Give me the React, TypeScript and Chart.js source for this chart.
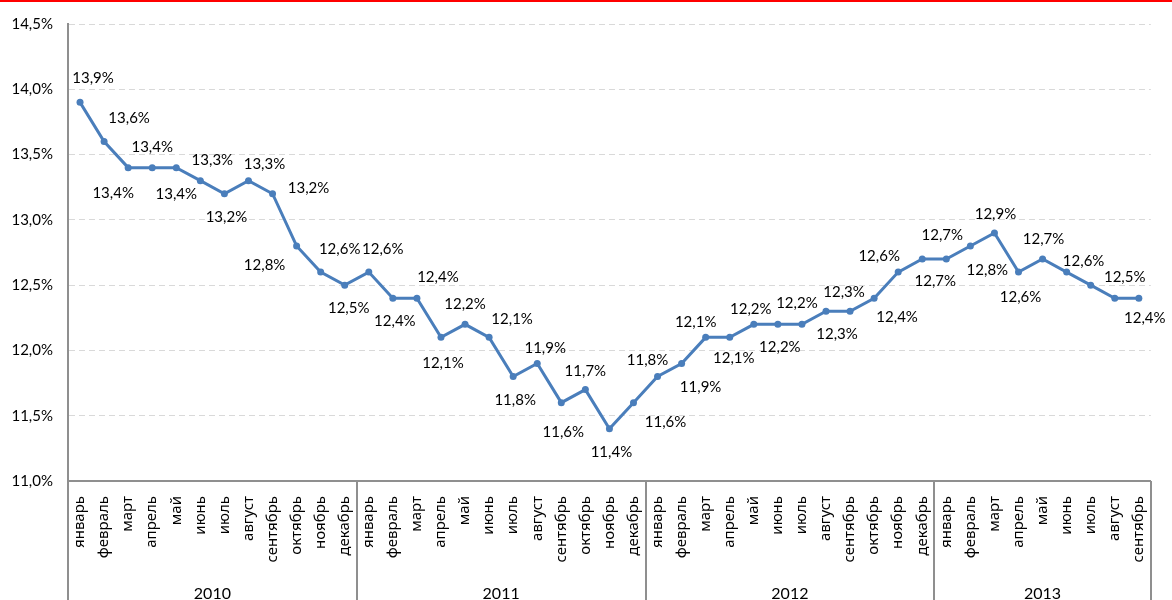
import React, { useEffect, useRef } from 'react';
import { Chart, registerables } from 'chart.js';

Chart.register(...registerables);

// ---- data ----
const monthNames = ['январь', 'февраль', 'март', 'апрель', 'май', 'июнь', 'июль', 'август', 'сентябрь', 'октябрь', 'ноябрь', 'декабрь'];
const years = ['2010', '2011', '2012', '2013'];
const values2010 = [13.9, 13.6, 13.4, 13.4, 13.4, 13.3, 13.2, 13.3, 13.2, 12.8, 12.6, 12.5];
const values2011 = [12.6, 12.4, 12.4, 12.1, 12.2, 12.1, 11.8, 11.9, 11.6, 11.7, 11.4, 11.6];
const values2012 = [11.8, 11.9, 12.1, 12.1, 12.2, 12.2, 12.2, 12.3, 12.3, 12.4, 12.6, 12.7];
const values2013 = [12.7, 12.8, 12.9, 12.6, 12.7, 12.6, 12.5, 12.4, 12.4];
const yMin = 11.0;
const yMax = 14.5;
const yStep = 0.5;

const seriesByYear = [values2010, values2011, values2012, values2013];
const values: number[] = seriesByYear.flat();
const categories: string[] = seriesByYear.flatMap((vals) => vals.map((_, i) => monthNames[i]));

// ---- label placement (style: offset of each value label from its point, null = hidden) ----
const labelOffsets: ([number, number] | null)[] = [
  [13, -24], [25, -23], [-15, 26], [0, -20], [0, 27], [12, -21], [2, 23], [16, -17], [36, -6], [-32, 19], [19, -23], [4, 23],
  [14, -23], [2, 23], [21, -21], [2, 26], [0, -20], [23, -18], [2, 24], [8, -15], [2, 29], [0, -18], [2, 23], [32, 19],
  [-10, -16], [19, 24], [-10, -15], [4, 21], [-3, -15], [2, 23], [-5, -21], [11, 23], [-6, -19], [23, 19], [-19, -16], [20, -24],
  [-11, 22], [17, 24], [1, -19], [2, 25], [1, -20], [17, -11], [34, -8], null, [6, 20],
];

const FONT = 'Lato';
const MONTH_FONT = '"Noto Sans"';
const AXIS_COLOR = '#8F8F8F';
const fmt = (v: number) => v.toFixed(1).replace('.', ',') + '%';

const valueLabelPlugin = {
  id: 'valueLabels',
  afterDatasetsDraw(chart: any) {
    const meta = chart.getDatasetMeta(0);
    const ctx = chart.ctx;
    ctx.save();
    ctx.font = `15px ${FONT}`;
    ctx.fillStyle = '#000';
    ctx.textAlign = 'center';
    ctx.textBaseline = 'middle';
    meta.data.forEach((pt: any, i: number) => {
      const off = labelOffsets[i];
      if (!off) return;
      ctx.fillText(fmt(values[i]), pt.x + off[0], pt.y + off[1]);
    });
    ctx.restore();
  },
};

const yearAxisPlugin = {
  id: 'yearAxis',
  afterDraw(chart: any) {
    const x = chart.scales.x;
    const ctx = chart.ctx;
    const top = x.top;
    const bottom = chart.height;
    ctx.save();
    ctx.strokeStyle = AXIS_COLOR;
    ctx.lineWidth = 2;
    ctx.font = `16px ${FONT}`;
    ctx.fillStyle = '#000';
    ctx.textAlign = 'center';
    ctx.textBaseline = 'middle';
    let start = 0;
    seriesByYear.forEach((vals, gi) => {
      const left = x.getPixelForValue(start - 0.5);
      const right = x.getPixelForValue(start + vals.length - 0.5);
      [left, right].forEach((px) => {
        const p = Math.round(px);
        ctx.beginPath();
        ctx.moveTo(p, top);
        ctx.lineTo(p, bottom);
        ctx.stroke();
      });
      ctx.fillText(years[gi], (left + right) / 2, 594);
      start += vals.length;
    });
    ctx.restore();
  },
};

export default function App() {
  const canvasRef = useRef<HTMLCanvasElement | null>(null);

  useEffect(() => {
    if (!canvasRef.current) return;
    const chart = new Chart(canvasRef.current, {
      type: 'line',
      data: {
        labels: categories,
        datasets: [
          {
            data: values,
            borderColor: '#4A7EBB',
            backgroundColor: '#4A7EBB',
            borderWidth: 3,
            pointRadius: 3.5,
            pointBackgroundColor: '#4A7EBB',
            pointBorderWidth: 0,
            tension: 0,
            fill: false,
          },
        ],
      },
      options: {
        responsive: false,
        animation: false,
        devicePixelRatio: 1,
        layout: { padding: { top: 23, right: 16, left: 0, bottom: 0 } },
        plugins: {
          legend: { display: false },
          tooltip: { enabled: false },
          title: { display: false },
        },
        scales: {
          x: {
            type: 'category',
            offset: true,
            grid: { display: false, drawTicks: false },
            border: { display: true, color: AXIS_COLOR, width: 2 },
            ticks: {
              autoSkip: false,
              minRotation: 90,
              maxRotation: 90,
              padding: 15,
              color: '#000',
              font: { family: MONTH_FONT, size: 15 },
            },
            afterFit: (scale: any) => {
              scale.height = 119;
            },
          },
          y: {
            min: yMin,
            max: yMax,
            grid: { color: '#D9D9D9', lineWidth: 1, drawTicks: false },
            border: { display: true, color: AXIS_COLOR, width: 2, dash: [6, 4] },
            ticks: {
              stepSize: yStep,
              padding: 15,
              color: '#000',
              font: { family: FONT, size: 15 },
              callback: (v: any) => fmt(Number(v)),
            },
            afterFit: (scale: any) => {
              scale.width = 68;
            },
          },
        },
      },
      plugins: [valueLabelPlugin, yearAxisPlugin],
    });
    return () => chart.destroy();
  }, []);

  return (
    <div style={{ position: 'absolute', left: 0, top: 0, width: 1172, height: 600, background: '#fff', overflow: 'hidden' }}>
      <canvas ref={canvasRef} width={1172} height={600} style={{ display: 'block' }} />
      <div style={{ position: 'absolute', left: 0, top: 0, width: 1172, height: 2, background: '#FF0000' }} />
    </div>
  );
}
